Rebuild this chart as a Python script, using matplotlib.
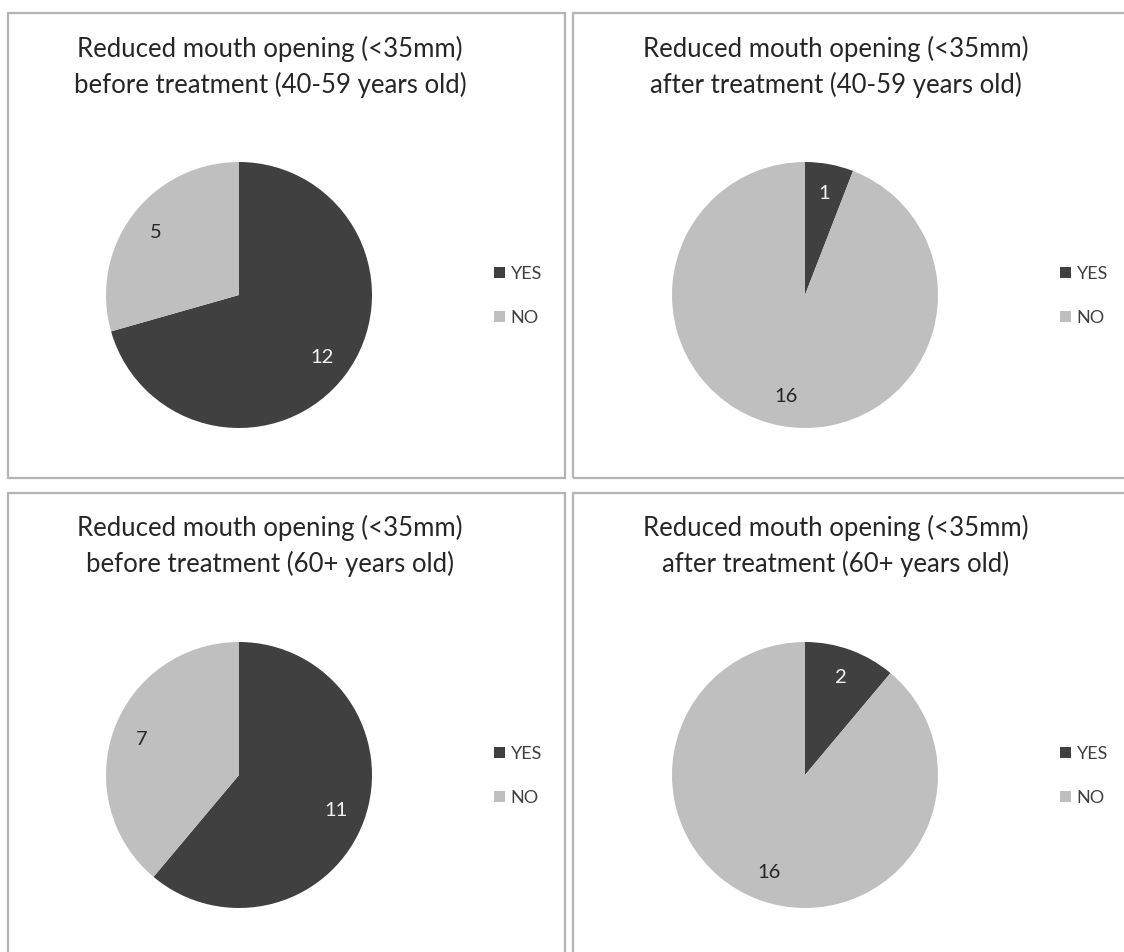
import matplotlib
matplotlib.use("Agg")
import matplotlib.pyplot as plt
from matplotlib.patches import Rectangle, Patch

plt.rcParams['font.family'] = ['Lato', 'DejaVu Sans']

categories = ["YES", "NO"]
titles = [
    "Reduced mouth opening (<35mm)\nbefore treatment (40-59 years old)",
    "Reduced mouth opening (<35mm)\nafter treatment (40-59 years old)",
    "Reduced mouth opening (<35mm)\nbefore treatment (60+ years old)",
    "Reduced mouth opening (<35mm)\nafter treatment (60+ years old)",
]
before_40_59 = [12, 5]
after_40_59 = [1, 16]
before_60 = [11, 7]
after_60 = [2, 16]
series = [before_40_59, after_40_59, before_60, after_60]

colors = ["#404040", "#BFBFBF"]
label_colors = ["#f2f2f2", "#262626"]

W, H = 1124, 952
fig = plt.figure(figsize=(W / 100, H / 100), dpi=100)

# panel frames (pixels: x0, y0_top, x1, y1_bottom)
panels = [(8, 13, 565, 478), (573, 13, 1130, 478), (8, 493, 565, 960), (573, 493, 1130, 960)]
pie_centers = [(239, 295), (805, 295), (239, 775), (805, 775)]
title_pos = [(270, 67), (836, 67), (270, 546), (836, 546)]
legend_pos = [(478, 296), (1044, 296), (478, 776), (1044, 776)]
R = 133

for (x0, y0, x1, y1) in panels:
    fig.add_artist(Rectangle((x0 / W, 1 - y1 / H), (x1 - x0) / W, (y1 - y0) / H,
                             transform=fig.transFigure, fill=False,
                             edgecolor="#b4b4b4", linewidth=1.6))

for i, vals in enumerate(series):
    cx, cy = pie_centers[i]
    ax = fig.add_axes([(cx - R) / W, 1 - (cy + R) / H, 2 * R / W, 2 * R / H])
    total = sum(vals)
    wedges, texts, autotexts = ax.pie(
        vals, colors=colors, startangle=90, counterclock=False,
        autopct=lambda p, t=total: f"{round(p * t / 100):d}",
        pctdistance=0.78, wedgeprops=dict(linewidth=0))
    for j, at in enumerate(autotexts):
        at.set_color(label_colors[j])
        at.set_fontsize(14.5)
    ax.set_xlim(-1, 1)
    ax.set_ylim(-1, 1)
    ax.set_aspect("auto")

    tx, ty = title_pos[i]
    fig.text(tx / W, 1 - ty / H, titles[i], ha="center", va="center",
             fontsize=18.5, color="#262626", linespacing=1.45)

    lx, ly = legend_pos[i]
    handles = [Patch(facecolor=c, edgecolor="none") for c in colors]
    fig.legend(handles, categories, loc="center left",
               bbox_to_anchor=(lx / W, 1 - ly / H), frameon=False,
               fontsize=13, handlelength=0.6, handleheight=0.6,
               handletextpad=0.3, labelspacing=1.55, labelcolor="#404040")

fig.savefig("out.png", dpi=100, facecolor="white")
